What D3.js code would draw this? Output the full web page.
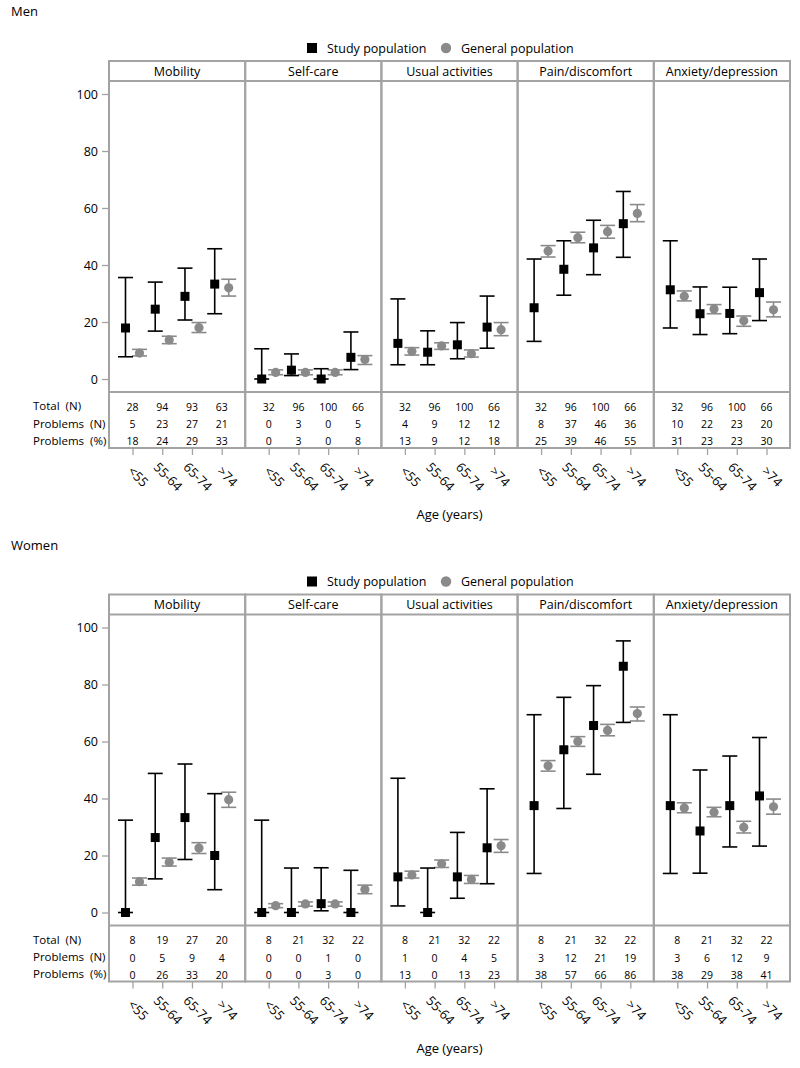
<!DOCTYPE html>
<html>
<head>
<meta charset="utf-8">
<script src="https://cdn.jsdelivr.net/npm/d3@7"></script>
<style>
  body { margin: 0; background: #fff; }
  svg { font-family: "Open Sans", sans-serif; display: block; }
  .rowlabel { white-space: pre; }
</style>
</head>
<body>
<svg id="chart" width="800" height="1068"></svg>
<script>
// 类别
const ages = ["<55", "55-64", "65-74", ">74"];
const dimensions = ["Mobility", "Self-care", "Usual activities", "Pain/discomfort", "Anxiety/depression"];
const rowLabels = ["Total  (N)", "Problems  (N)", "Problems  (%)"];
const yTicks = [0, 20, 40, 60, 80, 100];

// 男性 - 研究人群 (%, 下限, 上限)
const menStudy = [[17.9, 24.5, 29.0, 33.3], [0, 3.1, 0, 7.6], [12.5, 9.4, 12.0, 18.2], [25.0, 38.5, 46.0, 54.5], [31.3, 22.9, 23.0, 30.3]];
const menStudyLow = [[7.8, 16.8, 20.7, 22.9], [0, 1.2, 0, 3.3], [5.0, 5.0, 7.1, 10.8], [13.2, 29.4, 36.6, 42.7], [17.9, 15.6, 15.9, 20.5]];
const menStudyHigh = [[35.6, 34.0, 38.9, 45.7], [10.6, 8.8, 3.6, 16.5], [28.1, 16.9, 19.8, 29.1], [42.1, 48.5, 55.7, 65.8], [48.5, 32.3, 32.2, 42.1]];
// 男性 - 一般人群
const menGeneral = [[9.1, 13.7, 18.0, 32.0], [2.3, 2.3, 2.3, 6.8], [9.7, 11.6, 8.9, 17.3], [44.9, 49.6, 51.7, 58.1], [29.0, 24.6, 20.4, 24.3]];
const menGeneralLow = [[8.1, 12.4, 16.3, 29.1], [1.5, 1.5, 1.5, 5.1], [8.4, 10.4, 7.7, 15.2], [42.8, 47.8, 49.4, 55.2], [27.4, 22.9, 18.5, 21.8]];
const menGeneralHigh = [[10.4, 15.0, 19.8, 35.0], [3.2, 3.2, 3.2, 8.2], [11.0, 12.7, 10.2, 19.8], [46.8, 51.5, 53.9, 61.2], [30.9, 26.1, 22.1, 27.0]];
// 男性 - 表格
const menTotal = [[28, 94, 93, 63], [32, 96, 100, 66], [32, 96, 100, 66], [32, 96, 100, 66], [32, 96, 100, 66]];
const menProblemsN = [[5, 23, 27, 21], [0, 3, 0, 5], [4, 9, 12, 12], [8, 37, 46, 36], [10, 22, 23, 20]];
const menProblemsPct = [[18, 24, 29, 33], [0, 3, 0, 8], [13, 9, 12, 18], [25, 39, 46, 55], [31, 23, 23, 30]];

// 女性 - 研究人群
const womenStudy = [[0, 26.3, 33.3, 20.0], [0, 0, 3.1, 0], [12.5, 0, 12.5, 22.7], [37.5, 57.1, 65.6, 86.4], [37.5, 28.6, 37.5, 40.9]];
const womenStudyLow = [[0, 11.8, 18.6, 8.0], [0, 0, 0.6, 0], [2.3, 0, 5.0, 10.1], [13.7, 36.5, 48.5, 66.7], [13.7, 13.8, 23.0, 23.3]];
const womenStudyHigh = [[32.4, 48.8, 52.1, 41.7], [32.4, 15.6, 15.7, 14.8], [47.1, 15.6, 28.1, 43.4], [69.4, 75.5, 79.6, 95.3], [69.4, 50.0, 54.9, 61.4]];
// 女性 - 一般人群
const womenGeneral = [[10.8, 17.6, 22.6, 39.6], [2.4, 3.0, 3.0, 8.1], [13.2, 17.1, 11.6, 23.4], [51.5, 60.0, 63.9, 69.8], [36.7, 35.2, 29.9, 37.1]];
const womenGeneralLow = [[9.6, 16.3, 20.7, 36.9], [1.7, 2.2, 2.2, 6.6], [12.1, 15.8, 10.2, 21.1], [49.6, 58.3, 62.0, 67.2], [35.0, 33.6, 27.9, 34.5]];
const womenGeneralHigh = [[12.1, 19.1, 24.5, 42.2], [3.1, 3.7, 3.7, 9.6], [14.5, 18.4, 13.0, 25.6], [53.3, 61.7, 66.0, 72.1], [38.5, 36.9, 32.0, 39.8]];
// 女性 - 表格
const womenTotal = [[8, 19, 27, 20], [8, 21, 32, 22], [8, 21, 32, 22], [8, 21, 32, 22], [8, 21, 32, 22]];
const womenProblemsN = [[0, 5, 9, 4], [0, 0, 1, 0], [1, 0, 4, 5], [3, 12, 21, 19], [3, 6, 12, 9]];
const womenProblemsPct = [[0, 26, 33, 20], [0, 0, 3, 0], [13, 0, 13, 23], [38, 57, 66, 86], [38, 29, 38, 41]];

// 颜色
const STUDY_COLOR = "#000";
const GENERAL_COLOR = "#8a8a8a";
const BORDER_COLOR = "#a3a3a3";

const svg = d3.select("#chart");

// 面板的水平位置
const x = d3.scaleBand().domain(dimensions).range([109, 790]);
const xAge = d3.scalePoint().domain(ages).range([0, x.bandwidth()]).padding(0.79);

drawBlock(0, "Men", menStudy, menStudyLow, menStudyHigh, menGeneral, menGeneralLow, menGeneralHigh,
    [menTotal, menProblemsN, menProblemsPct]);
drawBlock(533.5, "Women", womenStudy, womenStudyLow, womenStudyHigh, womenGeneral, womenGeneralLow, womenGeneralHigh,
    [womenTotal, womenProblemsN, womenProblemsPct]);

function drawBlock(dy, title, study, studyLo, studyHi, general, generalLo, generalHi, table) {
    const g = svg.append("g").attr("transform", `translate(0,${dy})`);

    const headTop = 61, headBottom = 81, plotBottom = 392, tableBottom = 448;
    const y = d3.scaleLinear().domain([0, 100]).range([379, 94]);

    // 标题
    g.append("text").attr("x", 11).attr("y", 16)
        .attr("font-size", 13).attr("fill", "#000").text(title);

    // 图例
    const lg = g.append("g").attr("font-size", 12.5);
    lg.append("rect").attr("x", 307).attr("y", 43).attr("width", 10).attr("height", 10).attr("fill", STUDY_COLOR);
    lg.append("text").attr("x", 327).attr("y", 52.5).text("Study population");
    lg.append("circle").attr("cx", 446).attr("cy", 48).attr("r", 5.2).attr("fill", GENERAL_COLOR);
    lg.append("text").attr("x", 461).attr("y", 52.5).text("General population");

    // Y 轴
    g.append("g")
        .attr("transform", `translate(${x.range()[0]},0)`)
        .call(d3.axisLeft(y).tickValues(yTicks).tickSize(7).tickPadding(4))
        .call(a => a.select(".domain").remove())
        .call(a => a.selectAll("line").attr("stroke", BORDER_COLOR).attr("stroke-width", 1.3))
        .call(a => a.selectAll("text").attr("font-size", 12.5).attr("font-family", "Open Sans").attr("fill", "#000"));

    // 行标签
    const rowY = [410.5, 428, 445];
    g.selectAll(".rowlabel").data(rowLabels).enter().append("text")
        .attr("class", "rowlabel")
        .attr("x", 33).attr("y", (d, i) => rowY[i] - 0.5)
        .attr("font-size", 11.5)
        .text(d => d);

    dimensions.forEach((dim, k) => {
        const px = x(dim);
        const w = x.bandwidth();
        const p = g.append("g").attr("transform", `translate(${px},0)`);

        // 表头
        p.append("text")
            .attr("x", w / 2).attr("y", headBottom - 5.5)
            .attr("text-anchor", "middle").attr("font-size", 12.5)
            .text(dim);

        // 表格数字
        table.forEach((row, r) => {
            p.selectAll(`.cell${r}`).data(row[k]).enter().append("text")
                .attr("x", (d, i) => xAge(ages[i]))
                .attr("y", rowY[r])
                .attr("text-anchor", "middle").attr("font-size", 10.5)
                .text(d => d);
        });

        // 底部刻度
        p.append("g")
            .attr("transform", `translate(0,${tableBottom})`)
            .call(d3.axisBottom(xAge).tickSize(7).tickPadding(0))
            .call(a => a.select(".domain").remove())
            .call(a => a.selectAll("line").attr("stroke", BORDER_COLOR).attr("stroke-width", 1.3))
            .call(a => a.selectAll("text")
                .attr("font-size", 13).attr("font-family", "Open Sans").attr("fill", "#000")
                .attr("y", 0).attr("dy", null)
                .attr("text-anchor", "middle")
                .attr("transform", "translate(2,32) rotate(45)"));

        // 一般人群误差线
        const gen = p.append("g").attr("stroke", GENERAL_COLOR).attr("stroke-width", 1.6);
        ages.forEach((a, i) => {
            const cx = xAge(a) + 7;
            gen.append("line").attr("x1", cx).attr("x2", cx).attr("y1", y(generalLo[k][i])).attr("y2", y(generalHi[k][i]));
            gen.append("line").attr("x1", cx - 7.5).attr("x2", cx + 7.5).attr("y1", y(generalLo[k][i])).attr("y2", y(generalLo[k][i]));
            gen.append("line").attr("x1", cx - 7.5).attr("x2", cx + 7.5).attr("y1", y(generalHi[k][i])).attr("y2", y(generalHi[k][i]));
        });
        p.selectAll(".gdot").data(general[k]).enter().append("circle")
            .attr("cx", (d, i) => xAge(ages[i]) + 7)
            .attr("cy", d => y(d))
            .attr("r", 4.6)
            .attr("fill", GENERAL_COLOR);

        // 研究人群误差线
        const st = p.append("g").attr("stroke", STUDY_COLOR).attr("stroke-width", 1.6);
        ages.forEach((a, i) => {
            const cx = xAge(a) - 7;
            st.append("line").attr("x1", cx).attr("x2", cx).attr("y1", y(studyLo[k][i])).attr("y2", y(studyHi[k][i]));
            st.append("line").attr("x1", cx - 7.5).attr("x2", cx + 7.5).attr("y1", y(studyLo[k][i])).attr("y2", y(studyLo[k][i]));
            st.append("line").attr("x1", cx - 7.5).attr("x2", cx + 7.5).attr("y1", y(studyHi[k][i])).attr("y2", y(studyHi[k][i]));
        });
        p.selectAll(".sdot").data(study[k]).enter().append("rect")
            .attr("x", (d, i) => xAge(ages[i]) - 7 - 4.5)
            .attr("y", d => y(d) - 4.5)
            .attr("width", 9).attr("height", 9)
            .attr("fill", STUDY_COLOR);

        // 面板边框
        p.append("rect")
            .attr("x", 0).attr("y", headTop)
            .attr("width", w).attr("height", tableBottom - headTop)
            .attr("fill", "none").attr("stroke", BORDER_COLOR).attr("stroke-width", 2);
        [headBottom, plotBottom].forEach(yy => {
            p.append("line").attr("x1", 0).attr("x2", w).attr("y1", yy).attr("y2", yy)
                .attr("stroke", BORDER_COLOR).attr("stroke-width", 2);
        });
    });

    // X 轴标题
    g.append("text")
        .attr("x", (x.range()[0] + x.range()[1]) / 2).attr("y", 519)
        .attr("text-anchor", "middle").attr("font-size", 13)
        .text("Age (years)");
}
</script>
</body>
</html>
